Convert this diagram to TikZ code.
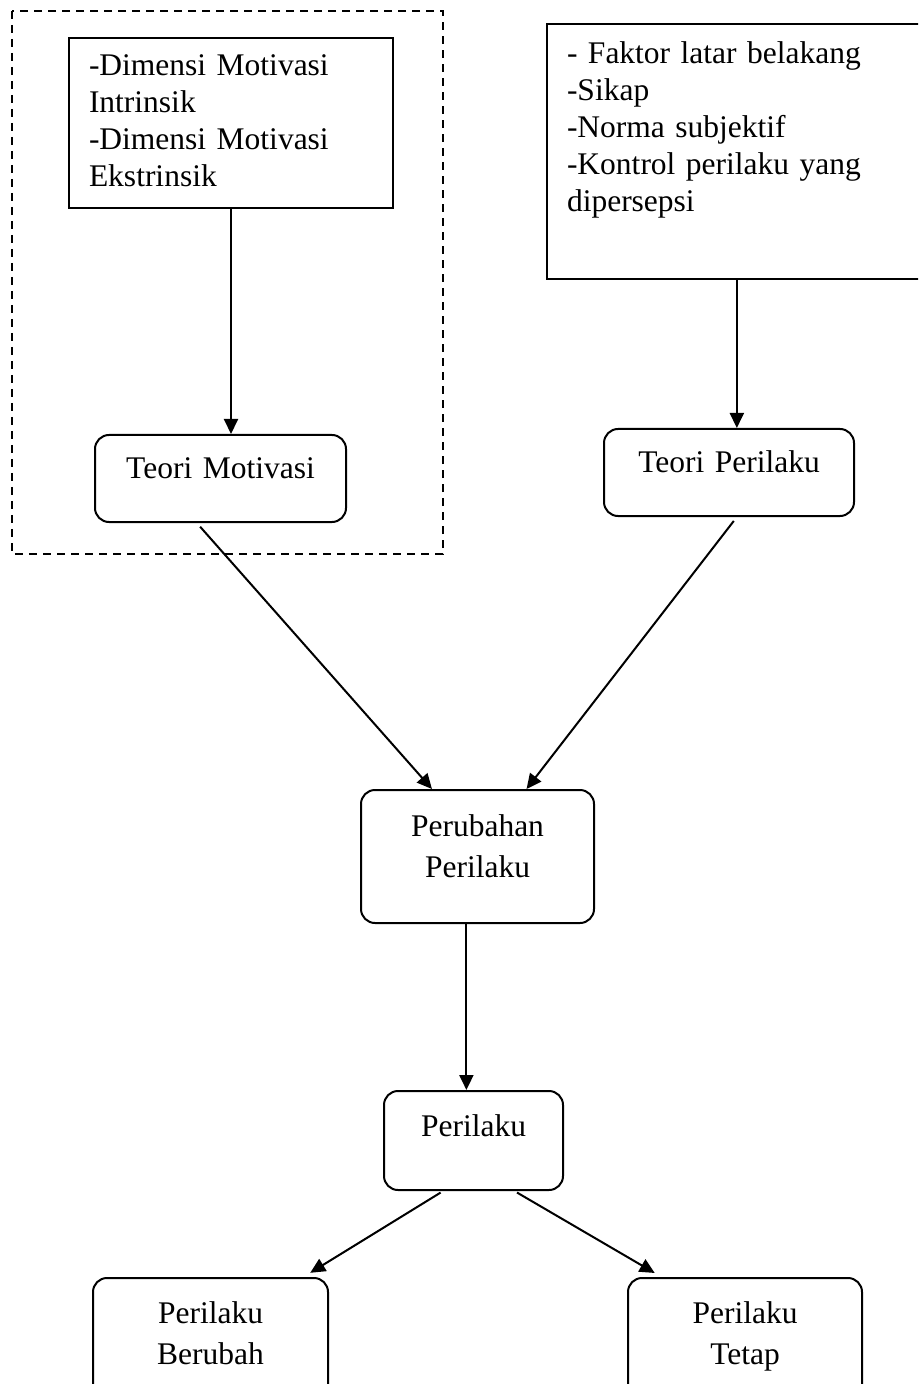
\documentclass[tikz,border=0pt]{standalone}
\usepackage{fontspec}
\setmainfont{Liberation Serif}
\usetikzlibrary{arrows.meta}

\begin{document}
\begin{tikzpicture}[x=0.5pt, y=-0.5pt,
    kotak/.style    = {draw, line width=1pt, anchor=north west, inner xsep=10pt, inner ysep=0pt,
                       font=\fontsize{15.75}{18.5}\selectfont},
    kotakbulat/.style = {kotak, rounded corners=7pt, align=center},
    renggang/.style = {font=\fontsize{15.75}{20.75}\selectfont},
    panah/.style    = {line width=1pt, -{Triangle[length=7.5pt, width=7pt]}}]
      \useasboundingbox (0,0) rectangle (918,1384);
      \clip (0,0) rectangle (918,1384);
      \draw[line width=0.75pt, dash pattern=on 4.2pt off 2.8pt] (12,11) rectangle (443,554);
      \node (dim) at (68,37)   [kotak, align=left, text width=142pt, text height=19pt, text depth=66pt]
            {-Dimensi Motivasi \\ Intrinsik \\ -Dimensi Motivasi \\ Ekstrinsik};
      \node (fak) at (546,23)  [kotak, align=left, text width=187pt, text height=20pt, text depth=107.5pt]
            {- Faktor latar belakang \\ -Sikap \\ -Norma subjektif \\ -Kontrol perilaku yang \\ dipersepsi};
      \node (tm) at (94,434)   [kotakbulat, text width=105.5pt, text height=22pt, text depth=21.5pt] {Teori Motivasi};
      \node (tp) at (603,428)  [kotakbulat, text width=105pt, text height=22pt, text depth=21.5pt] {Teori Perilaku};
      \node (pp) at (360,789)  [kotakbulat, renggang, text width=96.5pt, text height=23pt, text depth=43.5pt] {Perubahan \\ Perilaku};
      \node (pl) at (383,1090) [kotakbulat, text width=69.5pt, text height=22.5pt, text depth=27pt] {Perilaku};
      \node (pb) at (92,1277)  [kotakbulat, renggang, text width=97.5pt, text height=22.5pt, text depth=44pt] {Perilaku \\ Berubah};
      \node (pt) at (627,1277) [kotakbulat, renggang, text width=97pt, text height=22.5pt, text depth=44pt] {Perilaku \\ Tetap};
      % panah
      \draw[panah] (dim.south) -- (dim.south |- tm.north);
      \draw[panah] (tp.80 |- fak.south) -- (tp.80);
      \draw[panah, shorten <=2.5pt] (tm.242) -- (pp.124);
      \draw[panah, shorten <=2.5pt] (tp.280) -- (pp.54);
      \draw[panah] (pl.98 |- pp.south) -- (pl.98);
      \draw[panah, shorten <=1.5pt, shorten >=4pt] (pl.239) -- (pb.36.5);
      \draw[panah, shorten <=1.5pt, shorten >=4pt] (pl.309) -- (pt.141);
    \end{tikzpicture}
\end{document}
